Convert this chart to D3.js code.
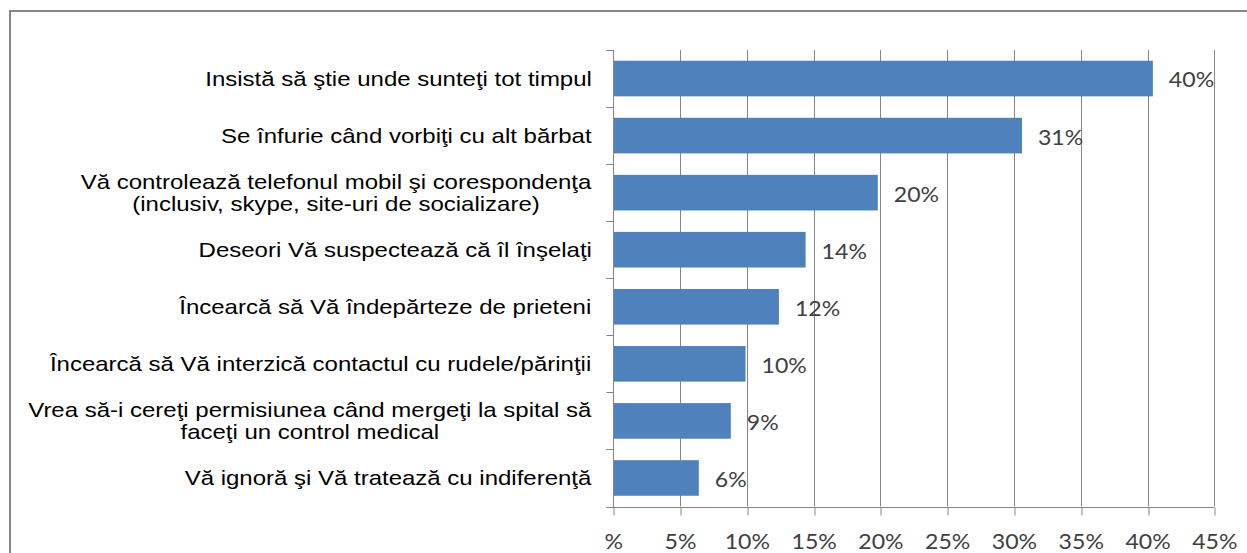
<!DOCTYPE html>
<html>
<head>
<meta charset="utf-8">
<script src="https://cdn.jsdelivr.net/npm/d3@7"></script>
<style>
  html, body { margin: 0; padding: 0; background: #fff; }
  svg { display: block; }
</style>
</head>
<body>
<svg id="chart" width="1247" height="553"></svg>
<script>
// Category labels (each entry is one label; inner arrays are its lines)
const categories = [
  ["Insistă să ştie unde sunteţi tot timpul"],
  ["Se înfurie când vorbiţi cu alt bărbat"],
  ["Vă controlează telefonul mobil şi corespondenţa", "(inclusiv, skype, site-uri de socializare)"],
  ["Deseori Vă suspectează că îl înşelaţi"],
  ["Încearcă să Vă îndepărteze de prieteni"],
  ["Încearcă să Vă interzică contactul cu rudele/părinţii"],
  ["Vrea să-i cereţi permisiunea când mergeţi la spital să", "faceţi un control medical"],
  ["Vă ignoră şi Vă tratează cu indiferenţă"]
];
// Share of respondents, percent
const values = [40.4, 30.6, 19.8, 14.4, 12.4, 9.9, 8.8, 6.4];
// Value axis ticks and their labels
const tickValues = [0, 5, 10, 15, 20, 25, 30, 35, 40, 45];
const tickLabels = ["%", "5%", "10%", "15%", "20%", "25%", "30%", "35%", "40%", "45%"];

const svg = d3.select("#chart");
const gridColor = "#868686";
const barColor = "#4F81BD";
const catFont = "'Liberation Sans', Arial, sans-serif";
const numFont = "Lato, 'Open Sans', sans-serif";
const catStretch = 1.2;
const numStretch = 1.05;

// chart area frame
svg.append("rect")
  .attr("x", 10).attr("y", 11)
  .attr("width", 1300).attr("height", 600)
  .attr("fill", "#fff")
  .attr("stroke", gridColor).attr("stroke-width", 2);

const plot = { left: 613.3, right: 1214.3, top: 50, bottom: 506.5 };

const x = d3.scaleLinear().domain([0, 45]).range([plot.left, plot.right]);
const keys = categories.map((c, i) => i);
const y = d3.scaleBand().domain(keys).range([plot.top, plot.bottom])
  .paddingInner(0.376).paddingOuter(0.188);

// vertical gridlines
svg.append("g").selectAll("line")
  .data(tickValues.filter(v => v > 0))
  .join("line")
  .attr("x1", d => Math.round(x(d)) + 0.5).attr("x2", d => Math.round(x(d)) + 0.5)
  .attr("y1", plot.top).attr("y2", plot.bottom)
  .attr("stroke", gridColor).attr("stroke-width", 1);

// bars
svg.append("g").selectAll("rect")
  .data(values)
  .join("rect")
  .attr("x", x(0))
  .attr("y", (d, i) => y(i))
  .attr("width", d => x(d) - x(0))
  .attr("height", y.bandwidth())
  .attr("fill", barColor);

// value (bottom) axis
const xAxis = d3.axisBottom(x)
  .tickValues(tickValues)
  .tickFormat((d, i) => tickLabels[i])
  .tickSize(8)
  .tickSizeOuter(0)
  .tickPadding(0);
const gx = svg.append("g")
  .attr("transform", `translate(0,${Math.round(plot.bottom) + 0.5})`)
  .call(xAxis);
gx.select(".domain").attr("stroke", gridColor)
  .attr("d", `M${plot.left - 7},0H${plot.right}`);
gx.selectAll(".tick line").attr("stroke", gridColor)
  .attr("transform", d => `translate(${Math.round(x(d)) + 0.5 - x(d)},0)`);
gx.selectAll(".tick text")
  .attr("y", 0).attr("dy", 0)
  .attr("fill", "#404040")
  .style("font-family", numFont).style("font-size", "22px")
  .attr("transform", `translate(0,41.5) scale(${numStretch},1)`);

// category (left) axis: line and separator ticks at band edges
const gy = svg.append("g");
gy.append("line")
  .attr("x1", Math.round(plot.left) + 0.5).attr("x2", Math.round(plot.left) + 0.5)
  .attr("y1", plot.top).attr("y2", plot.bottom + 0.5)
  .attr("stroke", gridColor);
const edges = d3.range(categories.length).map(i => y(i) - y.step() * y.paddingInner() / 2);
gy.selectAll("line.sep")
  .data(edges)
  .join("line")
  .attr("class", "sep")
  .attr("x1", plot.left - 7).attr("x2", plot.left)
  .attr("y1", d => Math.round(d) + 0.5).attr("y2", d => Math.round(d) + 0.5)
  .attr("stroke", gridColor);

// category labels, right-aligned to the axis, multi-line blocks centred
const labelRight = 592;
const lineH = 22.5;
categories.forEach((lines, i) => {
  const cy = y(i) + y.bandwidth() / 2;
  const t = svg.append("text")
    .attr("text-anchor", "middle")
    .attr("fill", "#000")
    .style("font-family", catFont).style("font-size", "20px");
  lines.forEach((ln, j) => {
    t.append("tspan")
      .attr("x", 0)
      .attr("y", (j - (lines.length - 1) / 2) * lineH)
      .attr("dy", "0.36em")
      .text(ln);
  });
  const w = t.node().getBBox().width * catStretch;
  t.attr("transform", `translate(${labelRight - w / 2},${cy}) scale(${catStretch},1)`);
});

// data labels
const fmt = v => Math.round(v) + "%";
svg.append("g").selectAll("text")
  .data(values)
  .join("text")
  .attr("fill", "#404040")
  .style("font-family", numFont).style("font-size", "22px")
  .attr("dy", "0.36em")
  .attr("transform", (d, i) => `translate(${x(d) + 16},${y(i) + y.bandwidth() / 2 + 1}) scale(${numStretch},1)`)
  .text(fmt);
</script>
</body>
</html>
